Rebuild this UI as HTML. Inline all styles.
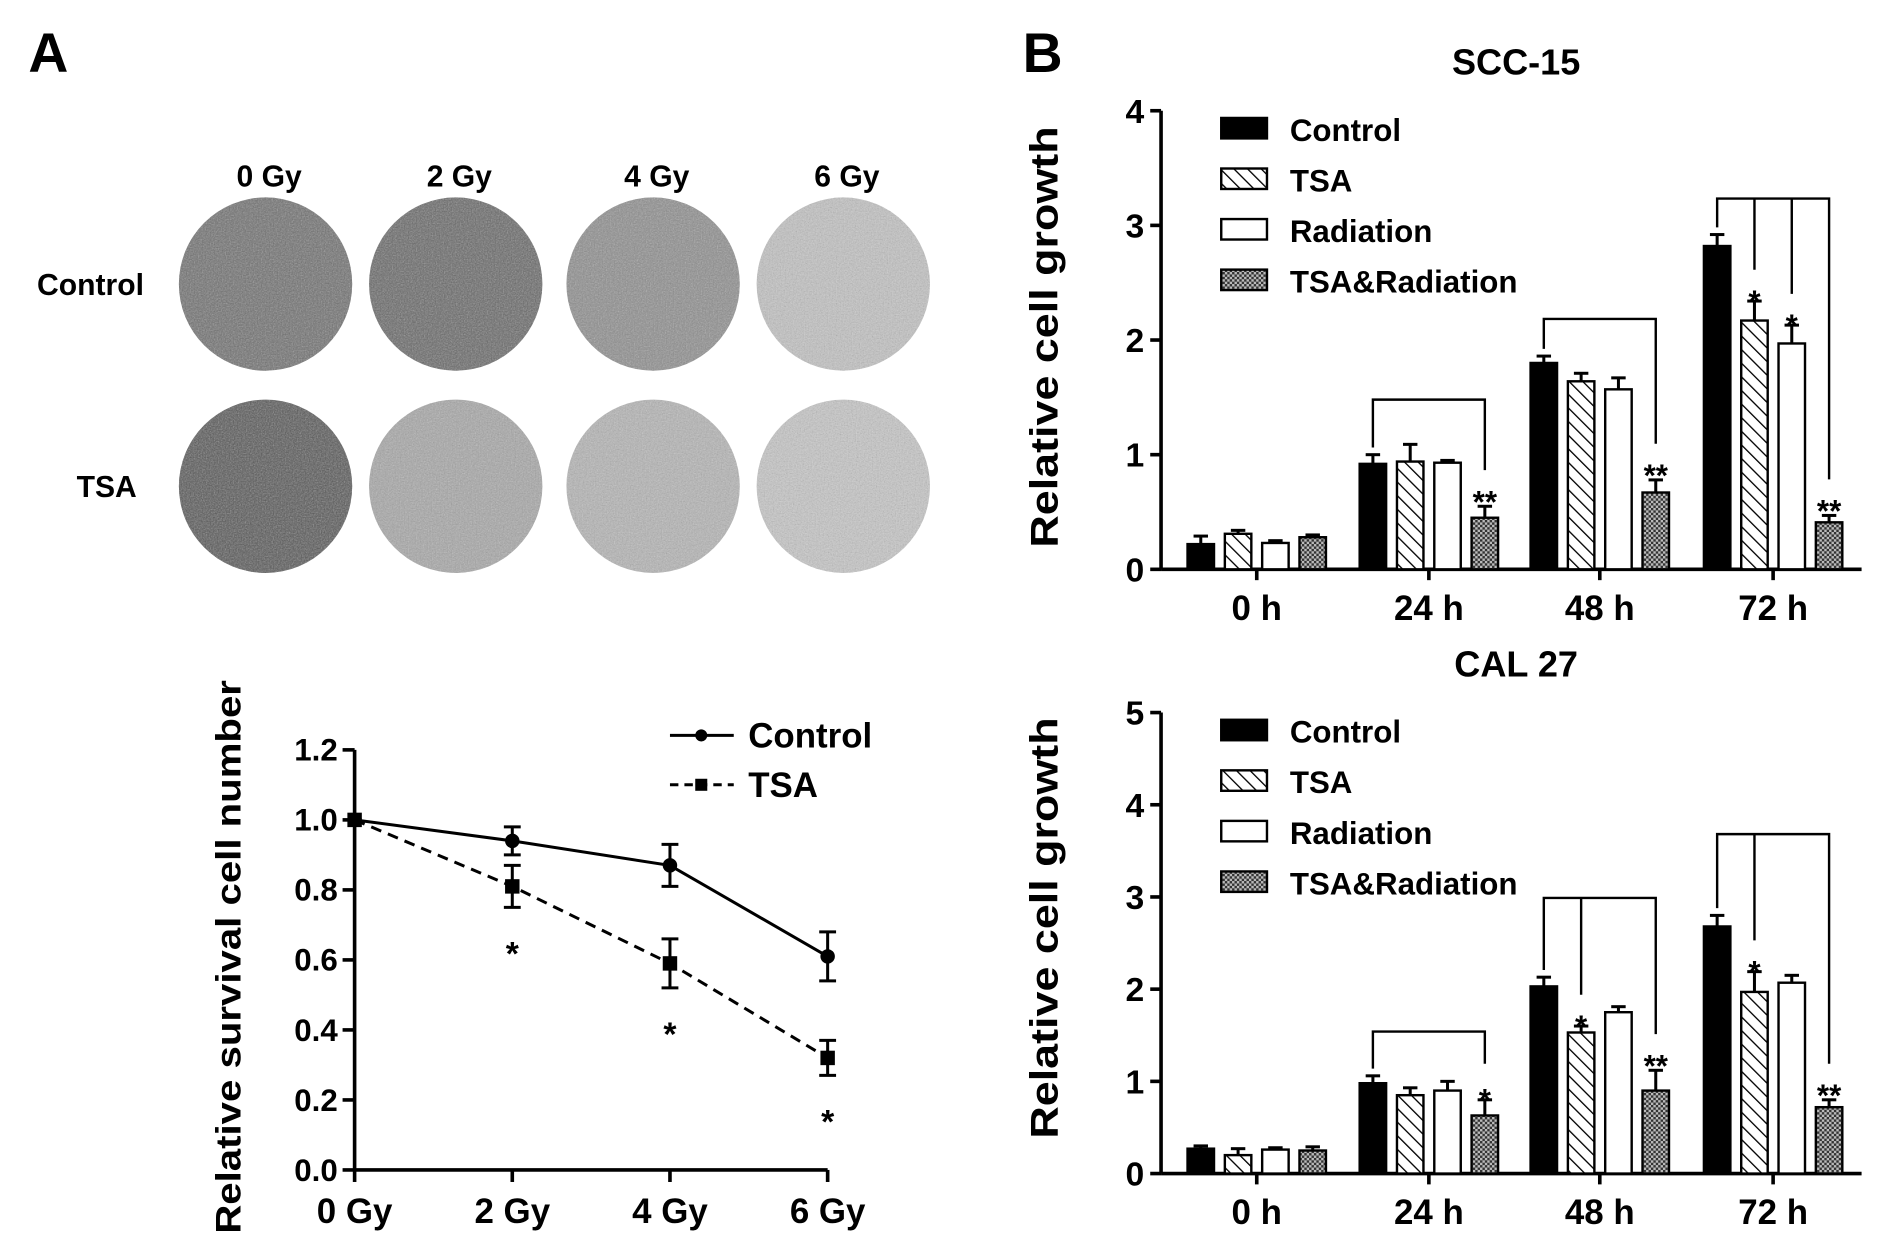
<!DOCTYPE html>
<html><head><meta charset="utf-8"><style>
html,body{margin:0;padding:0;background:#fff;}
svg{display:block;font-family:"Liberation Sans",Arial,sans-serif;font-weight:bold;}
</style></head><body>
<svg id="fig" width="1890" height="1253" viewBox="0 0 1567 1041">
<defs>
<pattern id="hatch" width="8" height="8" patternUnits="userSpaceOnUse" patternTransform="rotate(-45)"><rect width="8" height="8" fill="#fff"/><line x1="0" y1="0" x2="0" y2="8" stroke="#000" stroke-width="2.2"/></pattern>
<pattern id="dots" width="4" height="4" patternUnits="userSpaceOnUse"><rect width="4" height="4" fill="#bbb"/><rect width="2" height="2" fill="#333"/><rect x="2" y="2" width="2" height="2" fill="#333"/></pattern>
<filter id="noise" x="0" y="0" width="100%" height="100%"><feTurbulence type="fractalNoise" baseFrequency="0.9" numOctaves="2" seed="3"/><feColorMatrix type="saturate" values="0"/><feComponentTransfer><feFuncA type="table" tableValues="0 0.6"/></feComponentTransfer><feComposite in2="SourceGraphic" operator="in"/></filter>
</defs>
<text x="22" y="60" font-size="46">A</text>
<text x="848" y="60" font-size="46">B</text>
<g id="plates"></g>
<g id="lineChart"></g>
<g id="bar1"></g>
<g id="bar2"></g>
</svg>
<script>
// ----- data -----
const doseLabels=["0 Gy","2 Gy","4 Gy","6 Gy"];
const plateRows=["Control","TSA"];
const plateTones=[["#6e6e6e","#666666","#8c8c8c","#c2c2c2"],["#555555","#a6a6a6","#b4b4b4","#c6c6c6"]];
const survTicks=[0,0.2,0.4,0.6,0.8,1.0,1.2];
const ctrlSurv=[1.0,0.94,0.87,0.61];
const ctrlErr=[0,0.04,0.06,0.07];
const tsaSurv=[1.0,0.81,0.59,0.32];
const tsaErr=[0,0.06,0.07,0.05];
const tsaStars=["","*","*","*"];
const timeLabels=["0 h","24 h","48 h","72 h"];
const seriesNames=["Control","TSA","Radiation","TSA&Radiation"];
const scc15Ticks=[0,1,2,3,4];
const scc15Vals=[[0.22,0.92,1.8,2.82],[0.31,0.94,1.64,2.17],[0.23,0.93,1.57,1.97],[0.28,0.45,0.67,0.41]];
const scc15Err=[[0.07,0.08,0.06,0.1],[0.03,0.15,0.07,0.17],[0.02,0.02,0.1,0.16],[0.02,0.1,0.11,0.06]];
const scc15Stars=[["","","",""],["","","","*"],["","","","*"],["","**","**","**"]];
const cal27Ticks=[0,1,2,3,4,5];
const cal27Vals=[[0.27,0.98,2.03,2.68],[0.2,0.85,1.53,1.97],[0.26,0.9,1.75,2.07],[0.25,0.63,0.9,0.72]];
const cal27Err=[[0.03,0.08,0.1,0.12],[0.07,0.08,0.07,0.22],[0.02,0.1,0.06,0.08],[0.04,0.17,0.22,0.08]];
const cal27Stars=[["","","",""],["","","*","*"],["","","",""],["","*","**","**"]];

const NS="http://www.w3.org/2000/svg";
function mk(parent,tag,attrs,txt){const e=document.createElementNS(NS,tag);for(const k in attrs)e.setAttribute(k,attrs[k]);if(txt!==undefined)e.textContent=txt;parent.appendChild(e);return e;}

// ----- plates -----
const plates=document.getElementById('plates');
const px=[219,377,541,699], py=[236,404];
doseLabels.forEach((d,i)=>{const t=mk(plates,'text',{x:px[i]+3,y:155,'font-size':25,'text-anchor':'middle'},d);

});
plateRows.forEach((r,j)=>{const t=mk(plates,'text',{x:j?112:118,y:py[j]+9,'font-size':25,'text-anchor':'end'},r);


px.forEach((x,i)=>{const c=mk(plates,'circle',{cx:x,cy:py[j],r:72,fill:plateTones[j][i]});


const n=mk(plates,'circle',{cx:x,cy:py[j],r:72,fill:'#000',filter:'url(#noise)'});

});});

// ----- line chart -----
const L=document.getElementById('lineChart');
const lx0=293,lxs=131,ly0=972,lyScale=(623-972)/1.2;
const LX=i=>lx0+i*lxs, LY=v=>ly0+v*lyScale;
mk(L,'line',{x1:lx0,y1:LY(1.2),x2:lx0,y2:ly0,stroke:'#000','stroke-width':3});
mk(L,'line',{x1:lx0,y1:ly0,x2:LX(3),y2:ly0,stroke:'#000','stroke-width':3});
survTicks.forEach(v=>{mk(L,'line',{x1:lx0-10,y1:LY(v),x2:lx0,y2:LY(v),stroke:'#000','stroke-width':3});
const t=mk(L,'text',{x:lx0-14,y:LY(v)+9,'font-size':26,'text-anchor':'end'},v.toFixed(1));

});
doseLabels.forEach((d,i)=>{mk(L,'line',{x1:LX(i),y1:ly0,x2:LX(i),y2:ly0+10,stroke:'#000','stroke-width':3});
const t=mk(L,'text',{x:LX(i),y:ly0+44,'font-size':29,'text-anchor':'middle'},d);

});
const yt=mk(L,'text',{x:0,y:0,'font-size':29,'text-anchor':'middle',textLength:460,lengthAdjust:'spacingAndGlyphs',transform:`translate(198,795) rotate(-90)`},'Relative survival cell number');


function series(vals,errs,dash,marker,name){
 const p=mk(L,'polyline',{points:vals.map((v,i)=>LX(i)+','+LY(v)).join(' '),fill:'none',stroke:'#000','stroke-width':2.5,'stroke-dasharray':dash});
 
 
 vals.forEach((v,i)=>{if(errs[i]){const a=LY(v-errs[i]),b=LY(v+errs[i]);mk(L,'line',{x1:LX(i),y1:a,x2:LX(i),y2:b,stroke:'#000','stroke-width':2.5});mk(L,'line',{x1:LX(i)-7,y1:a,x2:LX(i)+7,y2:a,stroke:'#000','stroke-width':2.5});mk(L,'line',{x1:LX(i)-7,y1:b,x2:LX(i)+7,y2:b,stroke:'#000','stroke-width':2.5});}
 const m=marker==='c'?mk(L,'circle',{cx:LX(i),cy:LY(v),r:6,fill:'#000'}):mk(L,'rect',{x:LX(i)-6,y:LY(v)-6,width:12,height:12,fill:'#000'});
 
 });
}
series(tsaSurv,tsaErr,'9,6','s','tsa');
series(ctrlSurv,ctrlErr,'','c','control');
tsaStars.forEach((s,i)=>{if(s){const t=mk(L,'text',{x:LX(i),y:LY(tsaSurv[i]-tsaErr[i])+48,'font-size':28,'text-anchor':'middle'},s);

}});
mk(L,'line',{x1:555,y1:611,x2:608,y2:611,stroke:'#000','stroke-width':2.5});mk(L,'circle',{cx:581,cy:611,r:5,fill:'#000'});
let lg=mk(L,'text',{x:620,y:621,'font-size':29},'Control');
mk(L,'line',{x1:555,y1:652,x2:608,y2:652,stroke:'#000','stroke-width':2.5,'stroke-dasharray':'7,5'});mk(L,'rect',{x:576,y:647,width:10,height:10,fill:'#000'});
lg=mk(L,'text',{x:620,y:662,'font-size':29},'TSA');

// ----- bar charts -----
const fills=['#000','url(#hatch)','#fff','url(#dots)'];
function barChart(g,title,ticks,vals,errs,stars,y0,yTop,brackets,titleCenter){
 const ax=963,gStart=[985,1128,1270,1414],bw=22,bs=31,maxT=ticks[ticks.length-1];
 const Y=v=>y0-(y0-yTop)*v/maxT;
 const tt=mk(g,'text',{x:1258,y:yTop-30,'font-size':30,'text-anchor':'middle'},title);
 
 
 mk(g,'line',{x1:ax,y1:yTop,x2:ax,y2:y0,stroke:'#000','stroke-width':3});
 mk(g,'line',{x1:ax,y1:y0,x2:1545,y2:y0,stroke:'#000','stroke-width':3});
 ticks.forEach(v=>{mk(g,'line',{x1:ax-9,y1:Y(v),x2:ax,y2:Y(v),stroke:'#000','stroke-width':3});
  const t=mk(g,'text',{x:ax-14,y:Y(v)+10,'font-size':28,'text-anchor':'end'},v);
  
  });
 timeLabels.forEach((l,i)=>{const cx=gStart[i]+bs*1.5+bw/2;
  mk(g,'line',{x1:cx,y1:y0,x2:cx,y2:y0+9,stroke:'#000','stroke-width':3});
  const t=mk(g,'text',{x:cx,y:y0+42,'font-size':29,'text-anchor':'middle'},l);
  
  });
 const yt=mk(g,'text',{x:0,y:0,'font-size':32,'text-anchor':'middle',textLength:350,lengthAdjust:'spacingAndGlyphs',transform:`translate(877,${titleCenter}) rotate(-90)`},'Relative cell growth');
 
 
 vals.forEach((sv,s)=>sv.forEach((v,i)=>{const x=gStart[i]+s*bs;
  const r=mk(g,'rect',{x:x,y:Y(v),width:bw,height:y0-Y(v),fill:fills[s],stroke:'#000','stroke-width':2});
  
  
  const cx=x+bw/2,top=Y(v+errs[s][i]);
  mk(g,'line',{x1:cx,y1:Y(v),x2:cx,y2:top,stroke:'#000','stroke-width':2.5});
  mk(g,'line',{x1:cx-6,y1:top,x2:cx+6,y2:top,stroke:'#000','stroke-width':2.5});
  if(stars[s][i]){const t=mk(g,'text',{x:cx,y:top-3+(stars[s][i]=='*'?12:8),'font-size':26,'text-anchor':'middle'},stars[s][i]);
   
   }
 }));
 brackets.forEach(([i,by,targets])=>{const x0=gStart[i]+bw/2,x3=gStart[i]+3*bs+bw/2;
  mk(g,'polyline',{points:`${x0},${Y(vals[0][i]+errs[0][i])-6} ${x0},${by} ${x3},${by} ${x3},${Y(vals[3][i]+errs[3][i])-30}`,fill:'none',stroke:'#000','stroke-width':2});
  targets.forEach(s=>{const xs=gStart[i]+s*bs+bw/2;mk(g,'line',{x1:xs,y1:by,x2:xs,y2:Y(vals[s][i]+errs[s][i])-26,stroke:'#000','stroke-width':2});});
 });
 const lgY=yTop+10;
 seriesNames.forEach((n,s)=>{const yy=lgY+s*42;
  mk(g,'rect',{x:1013,y:yy-4,width:38,height:17,fill:fills[s],stroke:'#000','stroke-width':2});
  const t=mk(g,'text',{x:1070,y:yy+15,'font-size':26},n);
  
  });
}
barChart(document.getElementById('bar1'),'SCC-15',scc15Ticks,scc15Vals,scc15Err,scc15Stars,473,92,[[1,332,[]],[2,265,[]],[3,165,[1,2]]],280);
barChart(document.getElementById('bar2'),'CAL 27',cal27Ticks,cal27Vals,cal27Err,cal27Stars,975,592,[[1,857,[]],[2,746,[1]],[3,693,[1]]],771);
</script>
</body></html>
